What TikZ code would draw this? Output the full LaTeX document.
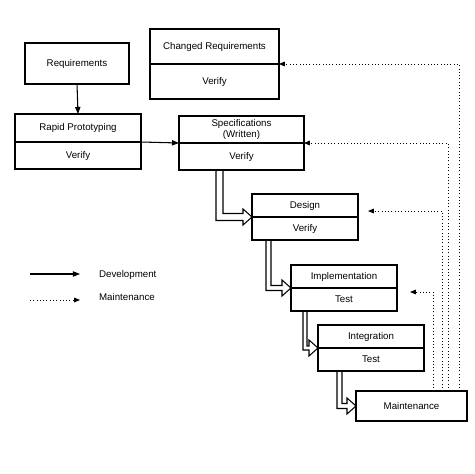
\documentclass[tikz,border=0pt]{standalone}
\usepackage{fontspec}
\setmainfont{Liberation Sans}
\usetikzlibrary{positioning}
\usetikzlibrary{arrows.meta}
\usetikzlibrary{calc}
\tikzset{
  phase/.style 2 args = {draw, line width=1.1pt, outer sep=0pt,
    minimum width=#1*0.03cm, minimum height=#2*0.03cm, inner sep=1pt},
  dev/.style = {line width=0.9pt, -{Triangle[length=6pt,width=4.5pt]}},
  maint/.style = {line width=0.8pt, dotted, -{Triangle[length=5pt,width=4pt]}},
  flow/.style = {line width=0.9pt, line join=miter}
}
% hollow arrow: shaft x, start anchor, tip anchor, half shaft width
\newcommand{\flowarrow}[4]{%
  \draw[flow] (#1-#4,0 |- #2) |- ($(#3)+(-9,#4)$) -- ($(#3)+(-9,8)$)
    -- (#3) -- ($(#3)+(-9,-8)$) -- ($(#3)+(-9,-#4)$) -| (#1+#4,0 |- #2);
}

\begin{document}
\begin{tikzpicture}[
  x=0.03cm, y=-0.03cm,
  every node/.style = {font=\fontsize{8.3}{9.3}\selectfont},
]
\useasboundingbox (0,0) rectangle (474,474);

% phases
\node[phase={104}{41}] (req) at (77,63.5) {Requirements};
\node[phase={129}{35}] (chg) at (214.5,46.5) {Changed Requirements};
\node[phase={129}{35}, below=0pt of chg] (chgv) {Verify};
\node[phase={126}{28}] (proto) at (78,128) {Rapid Prototyping};
\node[phase={126}{27}, below=0pt of proto] (protov) {Verify};
\node[phase={125}{27}, align=center] (spec) at (241.5,129.5) {Specifications\\(Written)};
\node[phase={125}{27}, below=0pt of spec] (specv) {Verify};
\node[phase={106}{23}] (design) at (305,205.5) {Design};
\node[phase={106}{23}, below=0pt of design] (designv) {Verify};
\node[phase={106}{23}] (impl) at (344,276.5) {Implementation};
\node[phase={106}{23}, below=0pt of impl] (implv) {Test};
\node[phase={106}{23}] (integ) at (371,336.5) {Integration};
\node[phase={106}{23}, below=0pt of integ] (integv) {Test};
\node[phase={111}{30}] (maintain) at (411.5,406) {Maintenance};

% development
\draw[dev] (req.south) -- (proto.north);
\draw[dev] (proto.south east) -- (spec.south west);
\flowarrow{219.5}{specv.south}{design.south west}{3.5}
\flowarrow{268.5}{designv.south}{impl.south west}{2.5}
\flowarrow{305}{implv.south}{integ.south west}{2}
\flowarrow{339.5}{integv.south}{maintain.west}{2.5}

% maintenance feedback
\coordinate (designback) at (368,211);
\coordinate (implback) at (410,292);
\draw[maint] (459,0 |- maintain.north) |- (chg.south east);
\draw[maint] (448,0 |- maintain.north) |- (spec.south east);
\draw[maint] (442,0 |- maintain.north) |- (designback);
\draw[maint] (433,0 |- maintain.north) |- (implback);

% legend
\coordinate (devstart) at (30,274);
\coordinate (maintstart) at (30,300);
\node[anchor=west] (devtext) at (95,275) {Development};
\node[anchor=west] (mainttext) at (95,297.5) {Maintenance};
\draw[dev] (devstart) -- (80,274);
\draw[maint] (maintstart) -- (80,300);
\end{tikzpicture}
\end{document}
